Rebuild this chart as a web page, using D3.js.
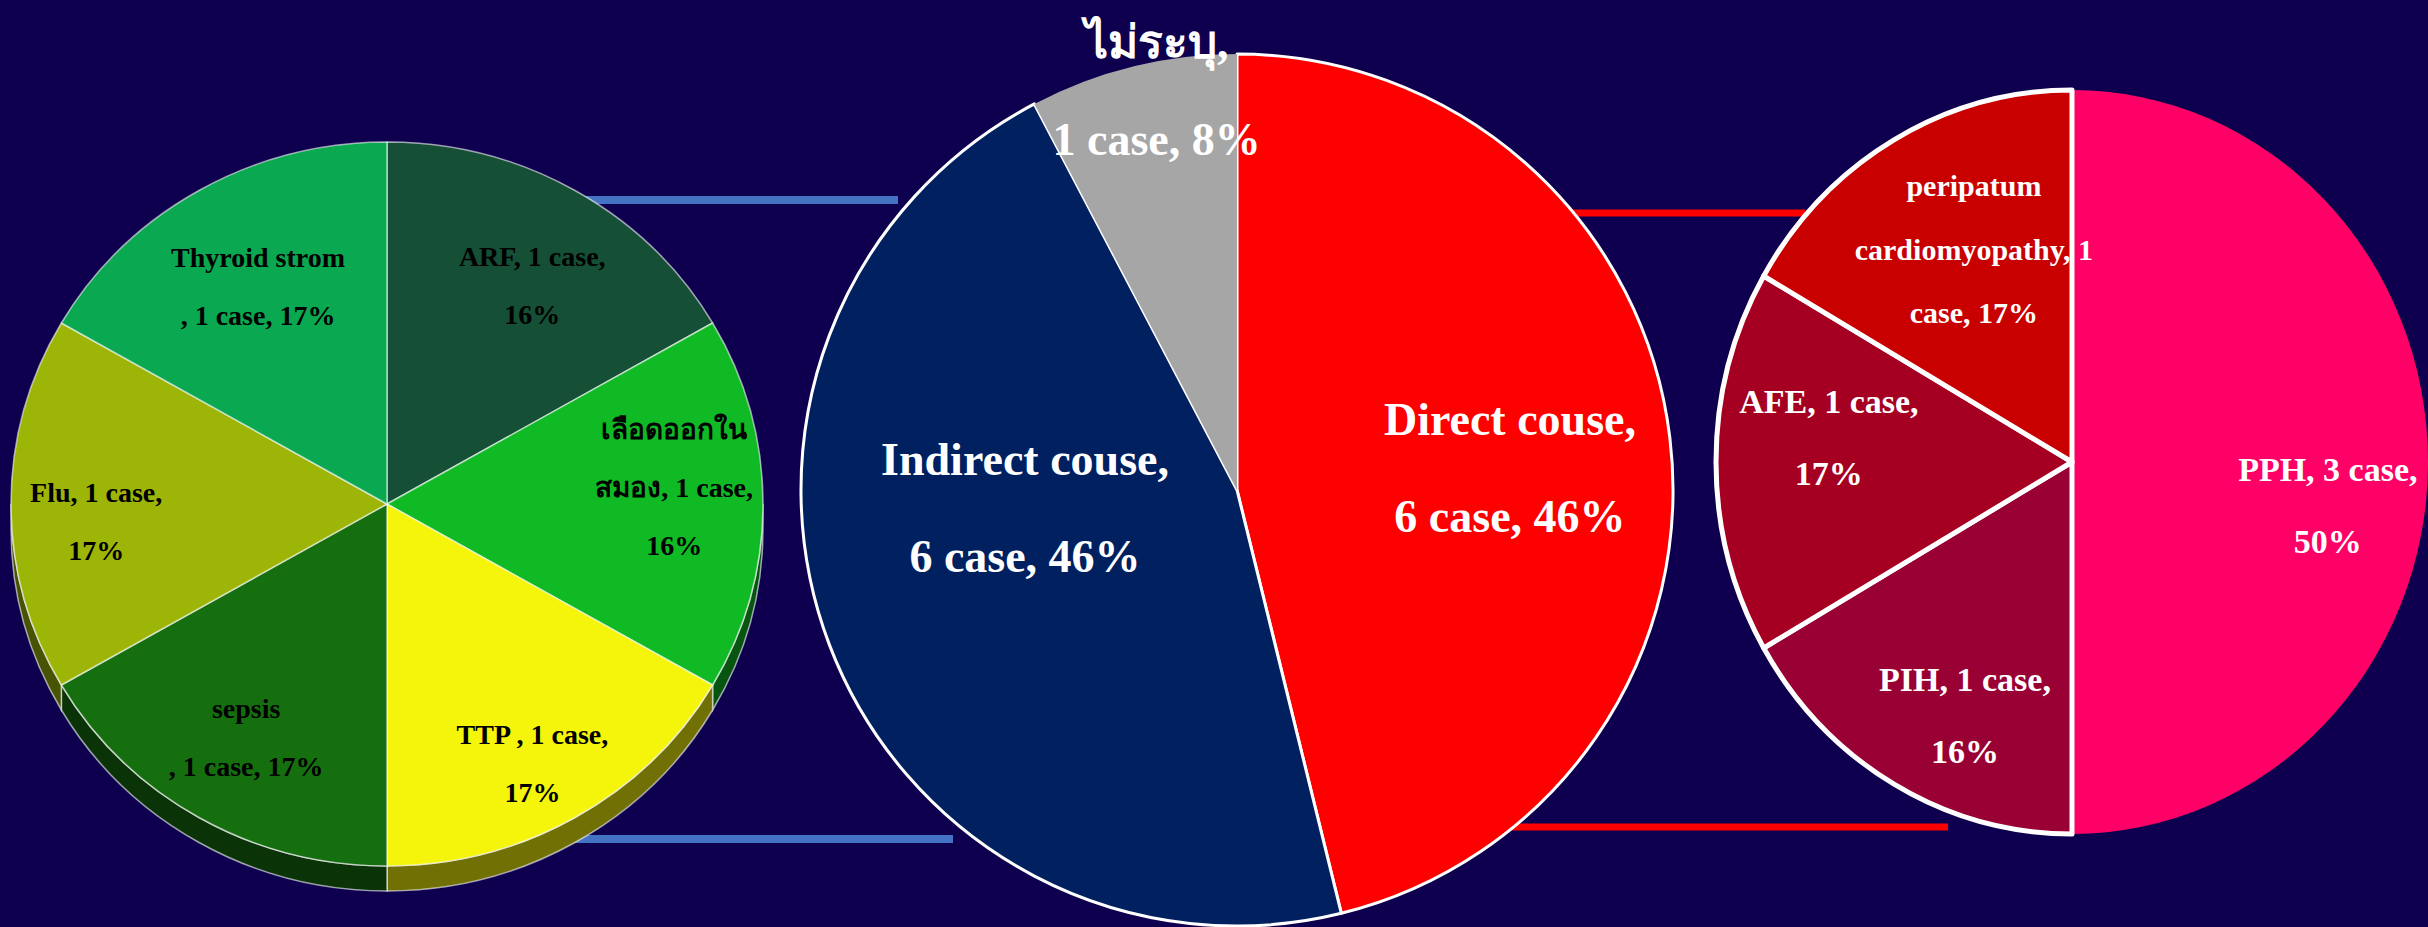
<!DOCTYPE html>
<html>
<head>
<meta charset="utf-8">
<script src="https://cdn.jsdelivr.net/npm/d3@7/dist/d3.min.js"></script>
<style>
html, body { margin: 0; padding: 0; background: #0e004e; overflow: hidden; }
svg { display: block; }
text { font-family: "Liberation Serif", "Times New Roman", "DejaVu Serif", serif; font-weight: bold; }
</style>
</head>
<body>
<div id="chart"></div>
<script>
//////////////////////////////////////////////////////////////
///////////////////////// Data ///////////////////////////////
//////////////////////////////////////////////////////////////

// Left pie: indirect causes
var indirectNames = ["ARF", "เลือดออกในสมอง", "TTP", "sepsis", "Flu", "Thyroid strom"];
var indirectCases = [1, 1, 1, 1, 1, 1];
var indirectLabels = [
  ["ARF, 1 case,", "16%"],
  ["เลือดออกใน", "สมอง, 1 case,", "16%"],
  ["TTP , 1 case,", "17%"],
  ["sepsis", ", 1 case, 17%"],
  ["Flu, 1 case,", "17%"],
  ["Thyroid strom", ", 1 case, 17%"]
];

// Middle pie: all causes
var mainNames = ["Direct couse", "Indirect couse", "ไม่ระบุ"];
var mainCases = [6, 6, 1];
var mainLabels = [
  ["Direct couse,", "6 case, 46%"],
  ["Indirect couse,", "6 case, 46%"],
  ["ไม่ระบุ,", "1 case, 8%"]
];

// Right pie: direct causes
var directNames = ["PPH", "PIH", "AFE", "peripatum cardiomyopathy"];
var directCases = [3, 1, 1, 1];
var directLabels = [
  ["PPH, 3 case,", "50%"],
  ["PIH, 1 case,", "16%"],
  ["AFE, 1 case,", "17%"],
  ["peripatum", "cardiomyopathy, 1", "case, 17%"]
];

//////////////////////////////////////////////////////////////
/////////////////////// Layout ///////////////////////////////
//////////////////////////////////////////////////////////////

var width = 2428, height = 927;

var leftPie = {
  cx: 387, cy: 504, rx: 376, ry: 362, depth: 25,
  colors: ["#154f36", "#0fba25", "#f5f50c", "#156f0f", "#9db507", "#0aa850"],
  stroke: "rgba(255,255,255,0.6)", strokeWidth: 1.5, strokeSlices: [1, 1, 1, 1, 1, 1],
  textColor: "#000", fontSize: [28, 28, 28, 28, 28, 28], lineHeight: 58,
  // label anchor: [angle deg clockwise from top, fraction of radius]
  labelPos: [[32.6, 0.717], [86.6, 0.765], [151.7, 0.816], [210.1, 0.747], [266.4, 0.775], [330.2, 0.69]]
};

var midPie = {
  cx: 1237, cy: 490, rx: 436, ry: 436, depth: 0,
  colors: ["#ff0000", "#002060", "#a6a6a6"],
  stroke: "#fff", strokeWidth: 3, strokeSlices: [1, 1, 0],
  textColor: "#fff", fontSize: [46, 46, 46], lineHeight: 97,
  labelPos: [[85.5, 0.628], [265.1, 0.488], [348.6, 0.932]]
};

var rightPie = {
  cx: 2072, cy: 462, rx: 356, ry: 372, depth: 0,
  colors: ["#ff0066", "#990033", "#a50021", "#c80000"],
  stroke: "#fff", strokeWidth: 5, strokeSlices: [0, 1, 1, 1],
  textColor: "#fff", fontSize: [34, 34, 34, 30], lineHeight: 72,
  labelPos: [[99.2, 0.728], [203.8, 0.745], [275.4, 0.686], [334.2, 0.633]]
};

// connector lines between pies (drawn under the pies)
var connectors = [
  {x1: leftPie.cx, x2: 898, y: 200, color: "#4472c4", w: 8},
  {x1: leftPie.cx, x2: 953, y: 839, color: "#4472c4", w: 8},
  {x1: midPie.cx, x2: 1805, y: 213, color: "#ff0000", w: 7},
  {x1: midPie.cx, x2: 1948, y: 827, color: "#ff0000", w: 7}
];

//////////////////////////////////////////////////////////////
/////////////////////// Drawing //////////////////////////////
//////////////////////////////////////////////////////////////

var svg = d3.select("#chart").append("svg")
    .attr("width", width)
    .attr("height", height);

svg.append("rect")
    .attr("width", width)
    .attr("height", height)
    .attr("fill", "#0e004e");

svg.selectAll(".connector")
    .data(connectors).enter()
    .append("line")
        .attr("class", "connector")
        .attr("x1", function(d) { return d.x1; })
        .attr("x2", function(d) { return d.x2; })
        .attr("y1", function(d) { return d.y; })
        .attr("y2", function(d) { return d.y; })
        .attr("stroke", function(d) { return d.color; })
        .attr("stroke-width", function(d) { return d.w; });

var pie = d3.pie().sort(null).value(function(d) { return d; });

function drawPie(cfg, values, labels, cls) {
  var arcs = pie(values);
  var k = cfg.ry / cfg.rx;
  var r = cfg.rx;

  var g = svg.append("g")
      .attr("class", cls)
      .attr("transform", "translate(" + cfg.cx + "," + cfg.cy + ") scale(1," + k + ")");

  //3D side wall, only visible on the lower half
  if (cfg.depth) {
    var dep = cfg.depth / k;
    g.selectAll(".side")
        .data(arcs.filter(function(d) {
          return d.endAngle > Math.PI / 2 && d.startAngle < 3 * Math.PI / 2;
        }))
        .enter().append("path")
        .attr("class", "side")
        .attr("d", function(d) {
          var s = Math.max(d.startAngle, Math.PI / 2);
          var e = Math.min(d.endAngle, 3 * Math.PI / 2);
          var p = d3.path();
          p.moveTo(r * Math.sin(s), -r * Math.cos(s));
          p.arc(0, 0, r, s - Math.PI / 2, e - Math.PI / 2);
          p.lineTo(r * Math.sin(e), -r * Math.cos(e) + dep);
          p.arc(0, dep, r, e - Math.PI / 2, s - Math.PI / 2, true);
          p.closePath();
          return p.toString();
        })
        .attr("fill", function(d) { return d3.color(cfg.colors[d.index]).darker(2.2); })
        .attr("stroke", cfg.stroke)
        .attr("stroke-width", cfg.strokeWidth)
        .attr("vector-effect", "non-scaling-stroke");
  }

  var arc = d3.arc().innerRadius(0).outerRadius(r);

  g.selectAll(".slice")
      .data(arcs).enter()
      .append("path")
        .attr("class", "slice")
        .attr("d", arc)
        .attr("fill", function(d) { return cfg.colors[d.index]; })
        .attr("stroke", function(d) { return cfg.strokeSlices[d.index] ? cfg.stroke : "none"; })
        .attr("stroke-width", cfg.strokeWidth)
        .attr("stroke-linejoin", "round")
        .attr("vector-effect", "non-scaling-stroke");

  //Labels
  var lab = svg.append("g").attr("class", cls + "-labels");
  arcs.forEach(function(d, i) {
    var a = cfg.labelPos[i][0] * Math.PI / 180;
    var f = cfg.labelPos[i][1];
    var x = cfg.cx + f * cfg.rx * Math.sin(a);
    var y = cfg.cy - f * cfg.ry * Math.cos(a);
    var lines = labels[i];
    var fs = cfg.fontSize[i];
    var lh = cfg.lineHeight * fs / cfg.fontSize[0];
    var t = lab.append("text")
        .attr("text-anchor", "middle")
        .attr("fill", cfg.textColor)
        .style("font-size", fs + "px");
    lines.forEach(function(line, j) {
      t.append("tspan")
          .attr("x", x)
          .attr("y", y + (j - (lines.length - 1) / 2) * lh + fs * 0.33)
          .text(line);
    });
  });
}

drawPie(leftPie, indirectCases, indirectLabels, "pieIndirect");
drawPie(midPie, mainCases, mainLabels, "pieMain");
drawPie(rightPie, directCases, directLabels, "pieDirect");
</script>
</body>
</html>
